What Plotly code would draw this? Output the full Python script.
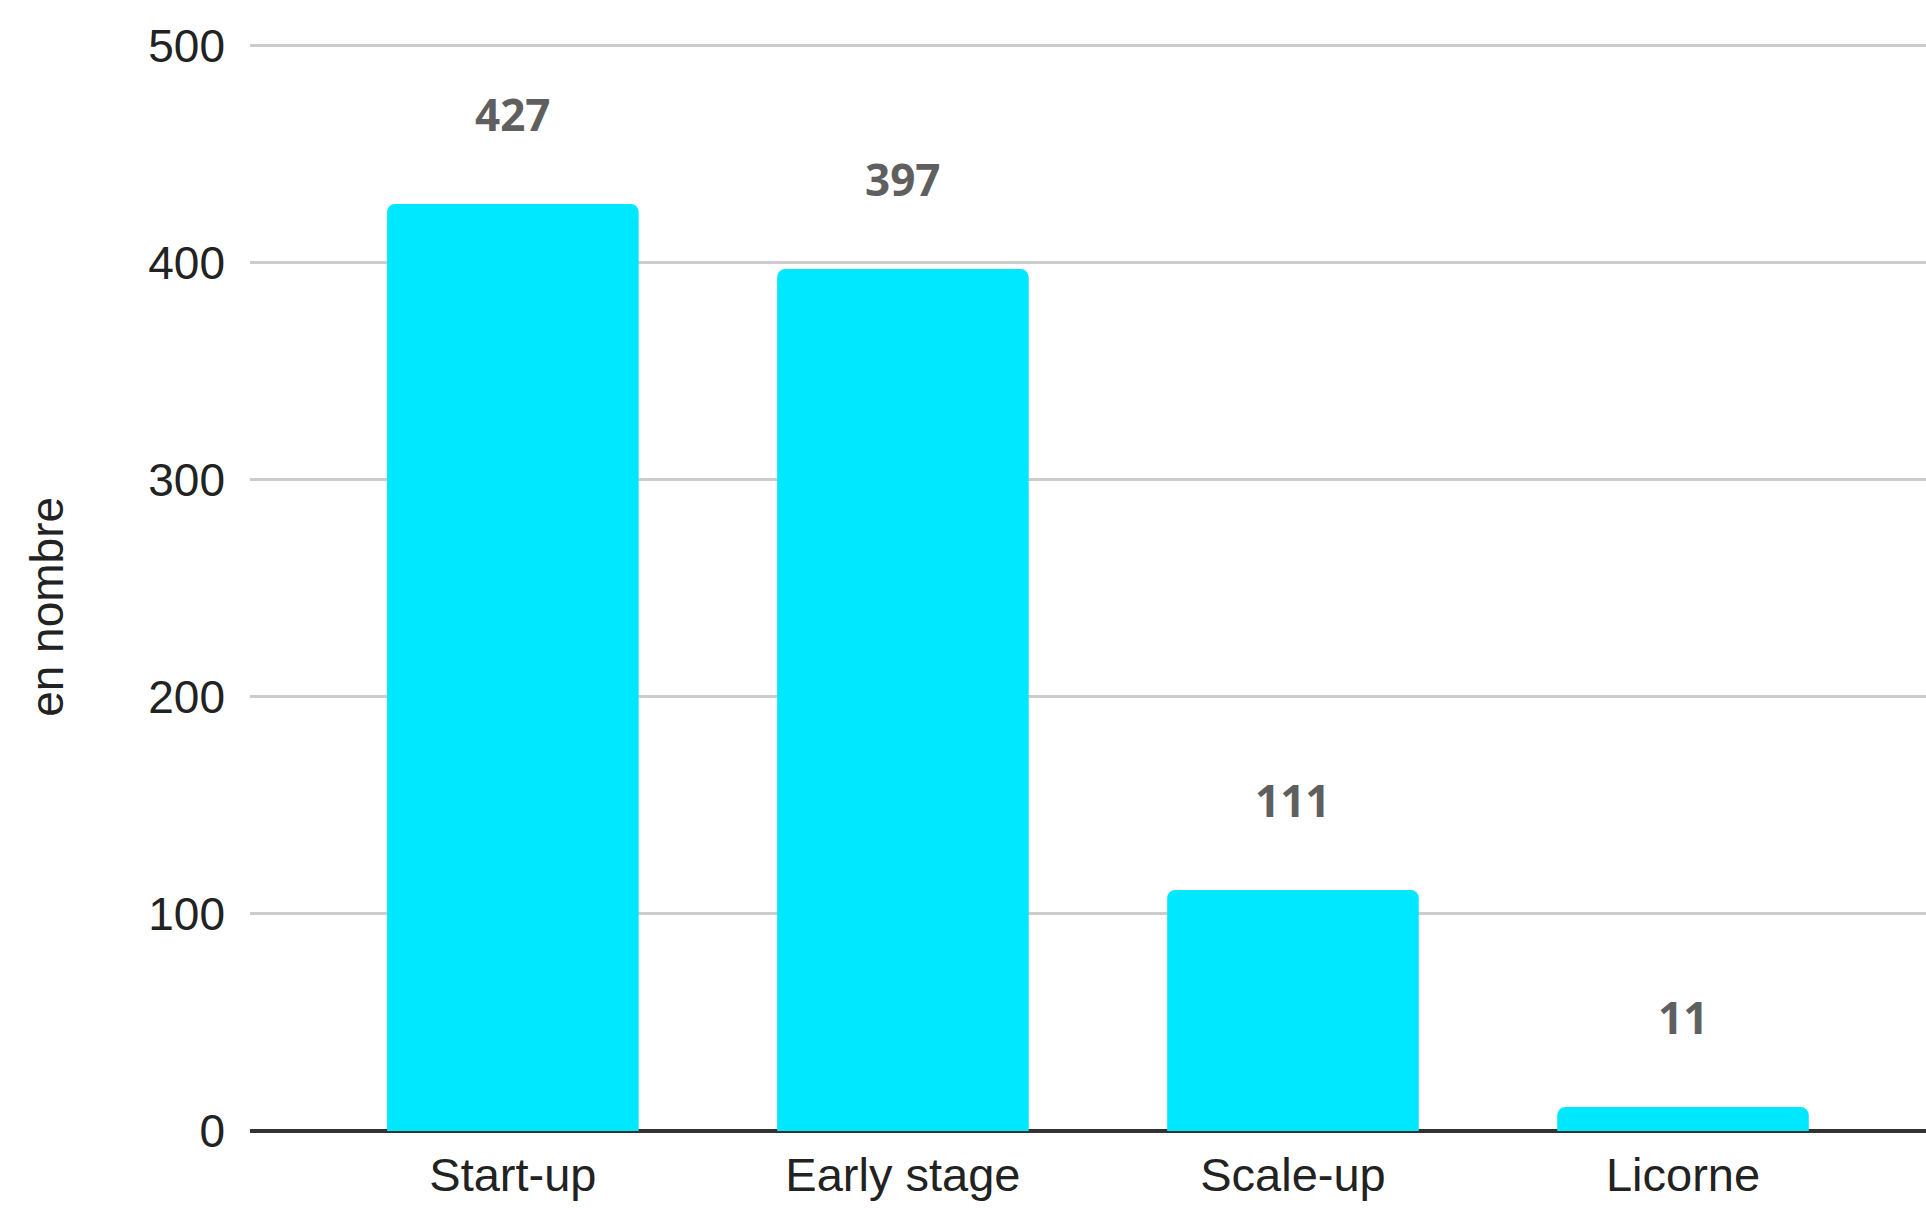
import plotly.graph_objects as go

categories = ["Start-up", "Early stage", "Scale-up", "Licorne"]
values = [427, 397, 111, 11]
y_ticks = [0, 100, 200, 300, 400, 500]
y_title = "en nombre"

BAR_COLOR = "#00E8FF"
fig = go.Figure()
fig.add_trace(go.Bar(
    x=categories, y=values,
    marker=dict(color=BAR_COLOR, line=dict(width=0), cornerradius=8),
    width=0.645,
    hoverinfo="skip",
))

for c, v in zip(categories, values):
    fig.add_annotation(
        x=c, y=v, text=f"<b>{v}</b>", showarrow=False,
        yshift=90, yanchor="middle",
        font=dict(family="Open Sans", size=44, color="#5f5f5f"),
    )

fig.add_annotation(
    xref="paper", yref="paper", x=0, y=0.48, xshift=-203,
    text=y_title, textangle=-90, showarrow=False,
    xanchor="center", yanchor="middle",
    font=dict(family="Liberation Sans", size=46, color="#222222"),
)

fig.update_layout(
    width=1926, height=1208,
    margin=dict(l=250, r=0, t=39, b=77, autoexpand=False),
    paper_bgcolor="white", plot_bgcolor="white",
    showlegend=False,
    font=dict(family="Liberation Sans", color="#222222"),
)
fig.update_xaxes(
    range=[-0.674, 3.623], showgrid=False, showline=False,
    tickfont=dict(size=47, color="#222222"), ticks="",
    ticklabelstandoff=12, automargin=False,
)
fig.update_yaxes(
    range=[0, 503], tickvals=y_ticks, showgrid=True,
    gridcolor="#cccccc", gridwidth=3,
    zeroline=True, zerolinecolor="#333333", zerolinewidth=4,
    tickfont=dict(size=46, color="#222222"), ticks="",
    ticklabelstandoff=24, automargin=False, showline=False,
)

fig.write_html("out.html")
